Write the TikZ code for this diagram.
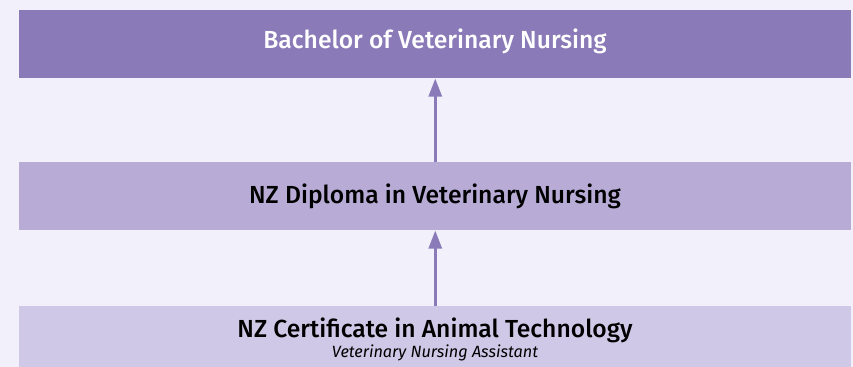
\documentclass[tikz,border=0pt]{standalone}
\usepackage{fontspec}
\setmainfont{Fira Sans}
\newfontfamily\medfont{Fira Sans Medium}
\usetikzlibrary{arrows.meta}
\definecolor{bgc}{HTML}{F2F0FA}
\definecolor{topc}{HTML}{8B7AB8}
\definecolor{midc}{HTML}{B8ACD6}
\definecolor{botc}{HTML}{CFC8E6}
\tikzset{
  level/.style={rectangle, inner sep=0pt, minimum width=624pt, anchor=north west},
  title/.style={font=\medfont\fontsize{18.5}{20}\selectfont, inner sep=0pt},
  sub/.style={font=\fontsize{12.2}{14}\selectfont\itshape, inner sep=0pt},
  upar/.style={draw=topc, line width=2pt, -{Triangle[width=9.75pt,length=13.5pt]}}
}
\begin{document}
\begin{tikzpicture}[x=0.75pt,y=-0.75pt]
\fill[bgc] (0,0) rectangle (853,367);
\useasboundingbox (0,0) rectangle (853,367);
\node[level, fill=topc, minimum height=51pt] (top) at (19,10) {};
\node[level, fill=midc, minimum height=51pt] (mid) at (19,162) {};
\node[level, fill=botc, minimum height=48pt] (bot) at (19,306) {};
\node[title, text=white] (toptxt) at (435,41) {Bachelor of Veterinary Nursing};
\node[title, text=black] (midtxt) at (435,196) {NZ Diploma in Veterinary Nursing};
\node[title, text=black] (bottxt) at (435,330) {NZ Certificate in Animal Technology};
\node[sub, text=black] (botsub) at (435,353) {Veterinary Nursing Assistant};
\draw[upar] (mid.north) -- (top.south);
\draw[upar] (bot.north) -- (mid.south);
\end{tikzpicture}
\end{document}
